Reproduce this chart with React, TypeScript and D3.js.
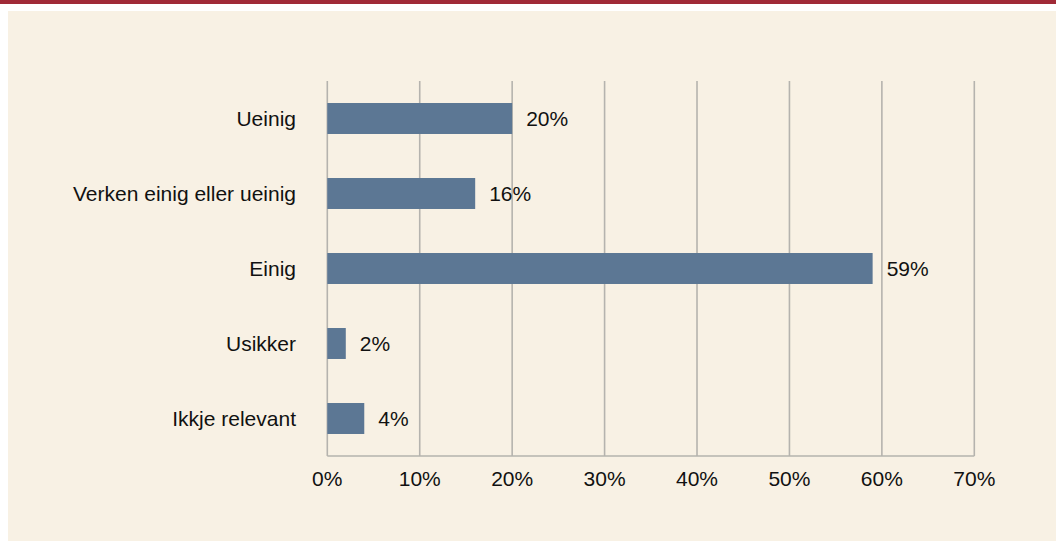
import React from "react";
import * as d3 from "d3";

const categories = ["Ueinig", "Verken einig eller ueinig", "Einig", "Usikker", "Ikkje relevant"];
const values = [20, 16, 59, 2, 4];
const xTicks = [0, 10, 20, 30, 40, 50, 60, 70];

const W = 1056;
const H = 542;
const FONT = "'Liberation Sans', Arial, Helvetica, sans-serif";
const FS = 21;

export default function App() {
  const x = d3.scaleLinear().domain([0, 70]).range([327.3, 974.3]);
  const y = d3
    .scaleBand<string>()
    .domain(categories)
    .range([81, 456])
    .paddingInner(0.587)
    .paddingOuter(0.2935);

  return (
    <svg
      width={W}
      height={H}
      style={{ position: "absolute", left: 0, top: 0, display: "block" }}
      fontFamily={FONT}
    >
      <rect x={0} y={0} width={W} height={H} fill="#ffffff" />
      <rect x={0} y={0} width={W} height={4} fill="#a02a37" />
      <rect x={8} y={11} width={W - 8} height={530} fill="#f8f1e4" />
      {xTicks.map((t) => (
        <line
          key={"g" + t}
          x1={x(t)}
          x2={x(t)}
          y1={81}
          y2={456}
          stroke="#b5b3ae"
          strokeWidth={1.6}
        />
      ))}
      <line x1={x(0)} x2={x(70)} y1={456} y2={456} stroke="#b5b3ae" strokeWidth={1.6} />
      {categories.map((c, i) => {
        const by = y(c)!;
        const bh = y.bandwidth();
        return (
          <g key={c}>
            <rect x={x(0)} y={by} width={x(values[i]) - x(0)} height={bh} fill="#5c7794" />
            <text
              x={x(values[i]) + 14}
              y={by + bh / 2 + 7.5}
              fontSize={FS}
              fill="#111"
            >
              {values[i] + "%"}
            </text>
            <text
              x={296}
              y={by + bh / 2 + 7.5}
              fontSize={FS}
              textAnchor="end"
              fill="#111"
            >
              {c}
            </text>
          </g>
        );
      })}
      {xTicks.map((t) => (
        <text
          key={"t" + t}
          x={x(t)}
          y={486}
          fontSize={FS}
          textAnchor="middle"
          fill="#111"
        >
          {t + "%"}
        </text>
      ))}
    </svg>
  );
}
